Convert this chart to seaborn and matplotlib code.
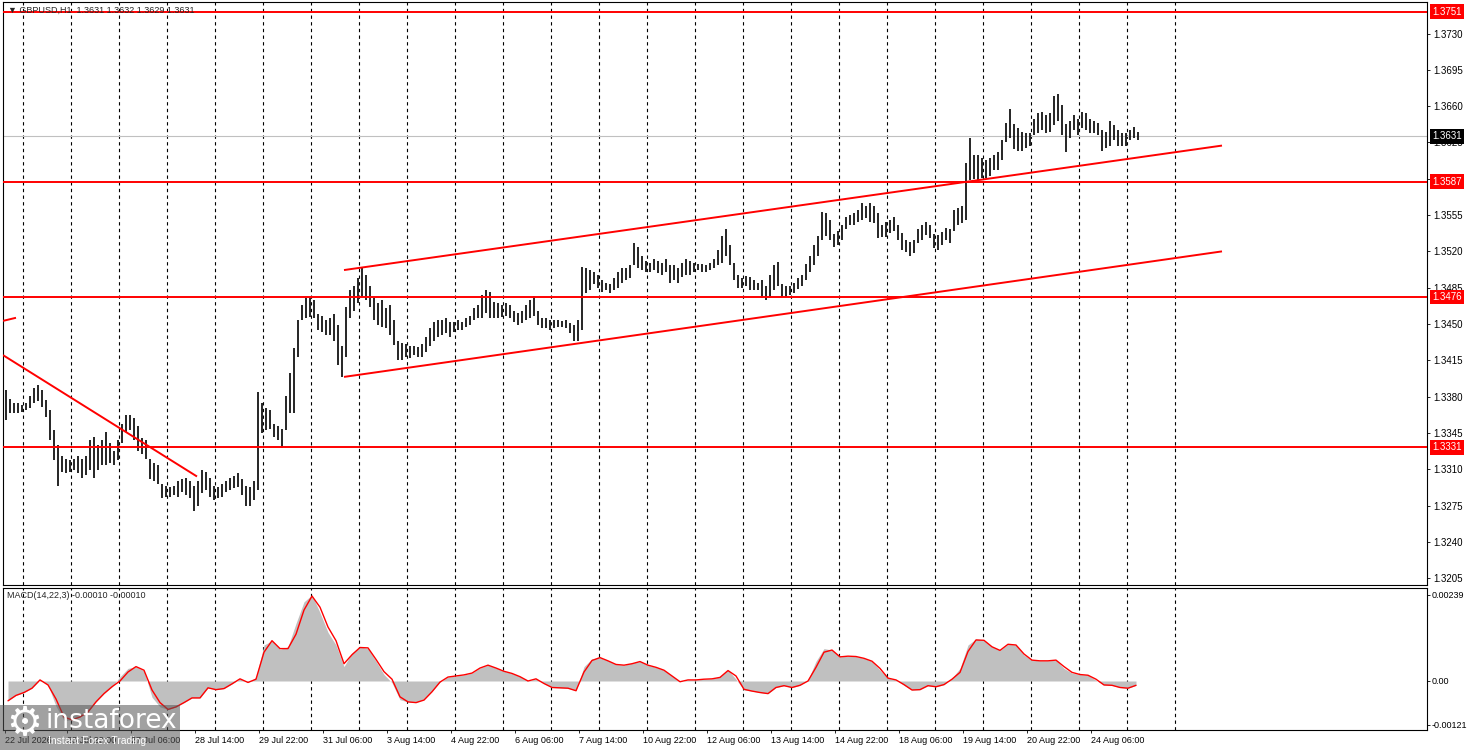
import numpy as np
import matplotlib
matplotlib.use("Agg")
import matplotlib.pyplot as plt
import matplotlib.transforms as mtransforms
from matplotlib.patches import Rectangle
import seaborn as sns

bar_high = [
    1.3386, 1.3378, 1.3374, 1.3374, 1.3372, 1.3374, 1.3381, 1.3388, 1.3391, 1.3386,
    1.3377, 1.3367, 1.3348, 1.3333, 1.3323, 1.3320, 1.3319, 1.3320, 1.3323, 1.3320,
    1.3323, 1.3338, 1.3341, 1.3333, 1.3338, 1.3346, 1.3335, 1.3328, 1.3338, 1.3354,
    1.3362, 1.3362, 1.3359, 1.3352, 1.3340, 1.3338, 1.3320, 1.3316, 1.3314, 1.3296,
    1.3294, 1.3293, 1.3294, 1.3299, 1.3301, 1.3302, 1.3299, 1.3294, 1.3299, 1.3309,
    1.3307, 1.3302, 1.3294, 1.3293, 1.3296, 1.3299, 1.3302, 1.3303, 1.3306, 1.3301,
    1.3294, 1.3293, 1.3299, 1.3384, 1.3374, 1.3369, 1.3367, 1.3354, 1.3352, 1.3349,
    1.3381, 1.3403, 1.3427, 1.3454,
    1.3468, 1.3475, 1.3475, 1.3473, 1.3460, 1.3458,
    1.3454, 1.3456, 1.3460, 1.3449, 1.3429, 1.3466, 1.3483, 1.3487, 1.3494, 1.3504,
    1.3497, 1.3487, 1.3475, 1.3470, 1.3473, 1.3465, 1.3468, 1.3454, 1.3434, 1.3432,
    1.3431, 1.3429, 1.3429, 1.3428, 1.3431, 1.3437, 1.3446, 1.3452, 1.3454, 1.3454,
    1.3456, 1.3452, 1.3452, 1.3454, 1.3452, 1.3456, 1.3458, 1.3465, 1.3468, 1.3478,
    1.3483, 1.3481, 1.3471, 1.3470, 1.3468, 1.3470, 1.3468, 1.3463, 1.3461, 1.3463,
    1.3468, 1.3473, 1.3477, 1.3463, 1.3456, 1.3456, 1.3454, 1.3454, 1.3454, 1.3453,
    1.3454, 1.3451, 1.3449, 1.3454,
    1.3505, 1.3504, 1.3502, 1.3500, 1.3497, 1.3492,
    1.3490, 1.3489, 1.3494, 1.3500, 1.3504, 1.3504, 1.3507, 1.3528, 1.3524, 1.3516,
    1.3511, 1.3509, 1.3513, 1.3511, 1.3509, 1.3513, 1.3507, 1.3507, 1.3504, 1.3509,
    1.3513, 1.3511, 1.3509, 1.3508, 1.3508, 1.3507, 1.3509, 1.3513, 1.3521, 1.3535,
    1.3542, 1.3526, 1.3509, 1.3497, 1.3494, 1.3496, 1.3495, 1.3492, 1.3490, 1.3492,
    1.3487, 1.3497, 1.3507, 1.3510, 1.3489, 1.3487, 1.3487, 1.3490, 1.3494, 1.3497,
    1.3508, 1.3516, 1.3526, 1.3535, 1.3558, 1.3557, 1.3550, 1.3537, 1.3540, 1.3545,
    1.3553, 1.3555, 1.3557, 1.3560, 1.3567, 1.3564, 1.3567, 1.3564, 1.3557, 1.3545,
    1.3548, 1.3550,
    1.3553, 1.3545, 1.3538, 1.3531, 1.3529, 1.3531, 1.3542, 1.3545,
    1.3548, 1.3545, 1.3537, 1.3536, 1.3539, 1.3543, 1.3542, 1.3560, 1.3562, 1.3564,
    1.3605, 1.3629, 1.3613, 1.3613, 1.3610, 1.3608, 1.3610, 1.3613, 1.3616, 1.3627,
    1.3644, 1.3657, 1.3643, 1.3639, 1.3635, 1.3634, 1.3634, 1.3648, 1.3653, 1.3654,
    1.3651, 1.3653, 1.3670, 1.3672, 1.3661, 1.3643, 1.3646, 1.3651, 1.3648, 1.3654,
    1.3653, 1.3648, 1.3646, 1.3644, 1.3637, 1.3635, 1.3646, 1.3642, 1.3637, 1.3634,
    1.3634, 1.3637, 1.3640, 1.3635,
]
bar_low = [
    1.3357, 1.3364, 1.3364, 1.3364, 1.3365, 1.3367, 1.3369, 1.3374, 1.3376, 1.3370,
    1.3360, 1.3338, 1.3319, 1.3294, 1.3307, 1.3306, 1.3307, 1.3309, 1.3306, 1.3302,
    1.3304, 1.3309, 1.3302, 1.3309, 1.3314, 1.3314, 1.3316, 1.3314, 1.3319, 1.3335,
    1.3346, 1.3348, 1.3338, 1.3328, 1.3325, 1.3320, 1.3301, 1.3299, 1.3296, 1.3282,
    1.3283, 1.3283, 1.3285, 1.3283, 1.3288, 1.3285, 1.3282, 1.3270, 1.3275, 1.3287,
    1.3290, 1.3283, 1.3280, 1.3282, 1.3283, 1.3288, 1.3290, 1.3292, 1.3293, 1.3285,
    1.3275, 1.3275, 1.3280, 1.3290, 1.3345, 1.3348, 1.3349, 1.3341, 1.3338, 1.3330,
    1.3348, 1.3364, 1.3364, 1.3418,
    1.3454, 1.3456, 1.3457, 1.3456, 1.3444, 1.3442,
    1.3439, 1.3439, 1.3434, 1.3410, 1.3399, 1.3418, 1.3456, 1.3463, 1.3470, 1.3476,
    1.3473, 1.3466, 1.3454, 1.3449, 1.3447, 1.3446, 1.3439, 1.3430, 1.3415, 1.3415,
    1.3418, 1.3417, 1.3420, 1.3418, 1.3418, 1.3423, 1.3429, 1.3434, 1.3437, 1.3439,
    1.3441, 1.3437, 1.3442, 1.3444, 1.3444, 1.3447, 1.3449, 1.3454, 1.3456, 1.3456,
    1.3461, 1.3456, 1.3456, 1.3456, 1.3457, 1.3458, 1.3456, 1.3452, 1.3449, 1.3451,
    1.3454, 1.3456, 1.3458, 1.3449, 1.3446, 1.3446, 1.3444, 1.3446, 1.3447, 1.3447,
    1.3446, 1.3441, 1.3434, 1.3434,
    1.3444, 1.3480, 1.3483, 1.3489, 1.3485, 1.3481,
    1.3483, 1.3480, 1.3483, 1.3485, 1.3490, 1.3492, 1.3494, 1.3507, 1.3504, 1.3502,
    1.3500, 1.3500, 1.3502, 1.3499, 1.3497, 1.3500, 1.3490, 1.3492, 1.3490, 1.3495,
    1.3497, 1.3497, 1.3500, 1.3502, 1.3500, 1.3500, 1.3502, 1.3504, 1.3507, 1.3509,
    1.3516, 1.3507, 1.3492, 1.3485, 1.3485, 1.3487, 1.3483, 1.3483, 1.3483, 1.3475,
    1.3473, 1.3475, 1.3483, 1.3487, 1.3476, 1.3476, 1.3478, 1.3480, 1.3484, 1.3487,
    1.3492, 1.3500, 1.3507, 1.3516, 1.3531, 1.3535, 1.3531, 1.3524, 1.3526, 1.3531,
    1.3542, 1.3545, 1.3545, 1.3548, 1.3550, 1.3552, 1.3548, 1.3547, 1.3533, 1.3534,
    1.3534, 1.3538,
    1.3540, 1.3531, 1.3521, 1.3519, 1.3516, 1.3518, 1.3528, 1.3531,
    1.3536, 1.3533, 1.3523, 1.3521, 1.3526, 1.3531, 1.3528, 1.3540, 1.3545, 1.3547,
    1.3550, 1.3589, 1.3590, 1.3589, 1.3591, 1.3591, 1.3593, 1.3598, 1.3598, 1.3608,
    1.3625, 1.3629, 1.3619, 1.3617, 1.3617, 1.3620, 1.3622, 1.3632, 1.3634, 1.3637,
    1.3634, 1.3635, 1.3642, 1.3646, 1.3632, 1.3616, 1.3629, 1.3637, 1.3632, 1.3639,
    1.3637, 1.3634, 1.3634, 1.3632, 1.3617, 1.3620, 1.3622, 1.3627, 1.3622, 1.3622,
    1.3622, 1.3627, 1.3629, 1.3627,
]

# MACD(14,22,3), 4-hour steps, in units of 0.00001
macd_hist_e5 = [
    -55, -40, -32, -20, 3, -11, -70, -110, -108, -100,
    -86, -58, -35, -16, 12, 35, 40, 28, -45, -72,
    -79, -72, -60, -47, -47, -19, -24, -21, -8, 6,
    -4, 10, 100, 112, 88, 95, 160, 220, 239, 190,
    135, 100, 40, 78, 95, 90, 55, 18, -5, -52,
    -58, -60, -50, -28, -3, 11, 14, 17, 22, 36,
    44, 36, 27, 21, 12, 0, 6, -7, -18, -19,
    -20, -27, 40, 62, 65, 56, 46, 44, 50, 54,
    44, 38, 30, 14, -2, 3, 3, 5, 6, 12,
    31, 5, -25, -28, -32, -35, -18, -13, -18, -12,
    3, 55, 90, 86, 67, 69, 68, 63, 55, 30,
    8, 3, -12, -25, -24, -13, -16, -10, 8, 35,
    100, 117, 113, 95, 85, 102, 100, 72, 58, 56,
    56, 58, 35, 22, 18, 16, 2, -11, -12, -18,
    -20, -12,
]
macd_signal_e5 = [
    -55, -40, -32, -20, 3, -11, -50, -100, -108, -100,
    -86, -58, -35, -16, 0, 25, 40, 30, -25, -60,
    -79, -72, -60, -47, -47, -19, -24, -21, -8, 6,
    -4, 5, 80, 112, 90, 90, 130, 197, 236, 205,
    150, 112, 48, 73, 93, 92, 60, 26, 5, -44,
    -58, -60, -53, -30, -3, 11, 14, 17, 22, 36,
    44, 36, 27, 21, 12, 0, 6, -7, -18, -19,
    -20, -27, 25, 57, 65, 56, 46, 44, 48, 54,
    44, 38, 30, 14, -2, 3, 3, 5, 6, 10,
    29, 14, -23, -28, -32, -35, -18, -13, -18, -12,
    0, 38, 80, 86, 67, 69, 68, 63, 55, 35,
    8, 3, -10, -25, -24, -13, -16, -10, 5, 24,
    82, 114, 113, 95, 85, 102, 100, 75, 58, 56,
    56, 58, 40, 24, 18, 16, 5, -11, -12, -18,
    -20, -12,
]

levels = [1.3751, 1.3587, 1.3476, 1.3331]
bid = 1.3631
price_ticks = [1.3730, 1.3695, 1.3660, 1.3625, 1.3590, 1.3555, 1.3520, 1.3485,
               1.3450, 1.3415, 1.3380, 1.3345, 1.3310, 1.3275, 1.3240, 1.3205]
macd_ticks = [0.00239, 0.0, -0.00121]
macd_tick_labels = ["0.00239", "0.00", "-0.00121"]

# trend lines: (hour index, price) anchors
trend_lines = [
    ([-1, 96], [1.3420, 1.3303]),
    ([-1, 5.5], [1.3453, 1.3456]),
    ([169.5, 608.5], [1.3399, 1.3520]),
    ([169.5, 608.5], [1.3502, 1.3622]),
]

time_labels = ["22 Jul 2026", "23 Jul 22:00", "27 Jul 06:00", "28 Jul 14:00",
               "29 Jul 22:00", "31 Jul 06:00", "3 Aug 14:00", "4 Aug 22:00",
               "6 Aug 06:00", "7 Aug 14:00", "10 Aug 22:00", "12 Aug 06:00",
               "13 Aug 14:00", "14 Aug 22:00", "18 Aug 06:00", "19 Aug 14:00",
               "20 Aug 22:00", "24 Aug 06:00"]

sns.set_theme(style="white")
plt.rcParams['font.family'] = ['Liberation Sans', 'DejaVu Sans']

W, H = 1468, 750
fig = plt.figure(figsize=(W / 100, H / 100), dpi=100)


def px_rect(l, t, r, b):
    return [l / W, 1 - b / H, (r - l) / W, (b - t) / H]


ax = fig.add_axes(px_rect(3, 2, 1427, 585))
axm = fig.add_axes(px_rect(3, 588, 1427, 730))

bar_h = np.arange(len(bar_high)) * 2 + 0.5
macd_h = np.arange(len(macd_hist_e5)) * 4 + 1.5
day_lines = np.arange(9, 586, 24)
tick_h = [0] + list(range(31, 31 + 32 * (len(time_labels) - 1), 32))

for a in (ax, axm):
    a.set_xlim(-1, 711)
    for g in day_lines:
        a.axvline(g, color='black', lw=0.8, ls=(0, (3, 3)), zorder=1)
    for s in a.spines.values():
        s.set_color('black')
        s.set_linewidth(0.8)
    a.yaxis.tick_right()
    a.tick_params(axis='y', direction='out', length=2.5, pad=2,
                  labelsize=7, colors='black', width=0.6, right=True, left=False)

# price panel
ax.set_ylim(1.31984, 1.37604)
ax.axhline(bid, color='#C0C0C0', lw=0.8, zorder=2)
ax.vlines(bar_h, bar_low, bar_high, color='black', lw=1.2, zorder=3)
for lv in levels:
    ax.axhline(lv, color='red', lw=1.4, zorder=4)
for xs, ys in trend_lines:
    ax.plot(xs, ys, color='red', lw=1.4, zorder=4, solid_capstyle='butt')
ax.set_xticks([])
ax.set_yticks(price_ticks)
ax.set_yticklabels([f"{p:.4f}" for p in price_ticks])

tr = mtransforms.blended_transform_factory(ax.transAxes, ax.transData)
for lv in levels:
    ax.text(1.0035, lv, f"{lv:.4f}", transform=tr, ha='left', va='center',
            fontsize=7, color='white', clip_on=False, zorder=10,
            bbox=dict(fc='red', ec='none', boxstyle='square,pad=0.25'))
ax.text(1.0035, bid, f"{bid:.4f}", transform=tr, ha='left', va='center',
        fontsize=7, color='white', clip_on=False, zorder=10,
        bbox=dict(fc='black', ec='none', boxstyle='square,pad=0.25'))
ax.text(5 / 1424, 1 - 8 / 583, "\u25bc GBPUSD,H1  1.3631 1.3632 1.3629 1.3631",
        transform=ax.transAxes, fontsize=6.5, va='center', ha='left', zorder=11)

# MACD panel
macd_hist = np.array(macd_hist_e5) * 1e-5
macd_signal = np.array(macd_signal_e5) * 1e-5
axm.set_ylim(-0.001361, 0.002583)
axm.fill_between(macd_h, 0, macd_hist, color='#C0C0C0', lw=0, zorder=2)
sns.lineplot(x=macd_h, y=macd_signal, ax=axm, color='red', lw=1, zorder=3)
axm.set_yticks(macd_ticks)
axm.set_yticklabels(macd_tick_labels)
axm.tick_params(axis='y', labelsize=6.5, pad=1)
axm.set_xticks(tick_h)
axm.set_xticklabels(time_labels)
axm.tick_params(axis='x', direction='out', length=2.5, pad=1.5, labelsize=6.5,
                colors='black', width=0.6, bottom=True)
for lab in axm.get_xticklabels():
    lab.set_ha('left')
axm.set_xlabel("")
axm.set_ylabel("")
axm.text(4 / 1424, 1 - 8 / 142, "MACD(14,22,3) -0.00010 -0.00010",
         transform=axm.transAxes, fontsize=6.5, va='center', ha='left')

# watermark (drawn over the corner, as in the screenshot)
fig.patches.append(Rectangle((0, 0), 180 / W, 45 / H, transform=fig.transFigure,
                             fc='#555555', ec='none', alpha=0.55, zorder=20))
fig.text(24 / W, 1 - 724 / H, "\u2699", fontsize=29, ha='center', va='center',
         color='white', family='DejaVu Sans', zorder=21)
fig.text(46 / W, 1 - 721 / H, "instaforex", fontsize=19, ha='left', va='center',
         color='white', family='DejaVu Sans', zorder=21)
fig.text(48 / W, 1 - 741 / H, "Instant Forex Trading", fontsize=7.5, ha='left',
         va='center', color='white', zorder=21)

fig.savefig("out.png", dpi=100)
